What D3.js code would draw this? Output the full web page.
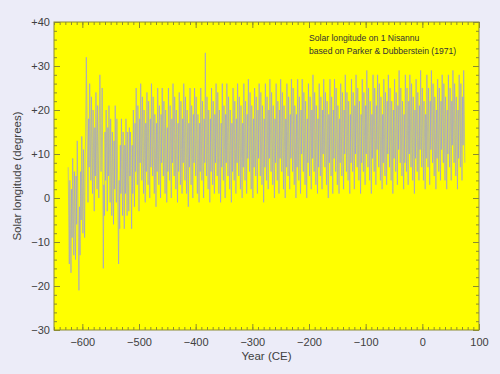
<!DOCTYPE html>
<html><head><meta charset="utf-8">
<script src="https://cdn.jsdelivr.net/npm/d3@7"></script>
<style>
html,body{margin:0;padding:0;background:#ececf8;}
svg{display:block;font-family:"Liberation Sans",Arial,Helvetica,sans-serif;}
</style></head>
<body>
<svg id="chart" width="500" height="374"></svg>
<script>
// ---- data ----
const firstYear = -625;
// irregular period, years -625 .. -506
const longitudeEarly = [
  7, -4, -15, 4, -7, -17, 2, -9, 9, -2,
  -13, 6, -5, -14, 5, -6, 13, 2, -9, -21,
  -2, -13, 6, -5, 14, 3, -8, 11, 0, -9,
  10, 14, 32, 21, 10, -1, 18, 7, 26, 15,
  4, 23, 12, 1, 20, 9, -3, 16, 5, 24,
  13, 2, 21, 10, 0, 17, 28, 17, 6, 14,
  25, 8, -16, 3, -4, 15, 4, 20, 9, -3,
  16, 5, 21, 10, -1, 18, 7, -4, 15, 4,
  -6, 13, 2, 21, 10, -1, 18, 7, -4, -15,
  4, -7, 12, 1, 18, 7, -4, 15, 4, -7,
  12, 1, 18, 7, -4, 15, 4, -3, 16, 5,
  15, 4, -7, 12, 1, 20, 9, -2, 17, 6
];
// regular 19-year cycle period, years -505 .. +75
const longitudeRegular = [
  25, 14, 3, 21, 10, -3, 18, 8, 26, 15, 4, 23, 12, 1, 20, 9, -1, 17, 6,
  24, 14, 3, 22, 11, 0, 18, 7, 26, 15, 5, 23, 12, 1, 19, 9, -2, 17, 6,
  25, 13, 3, 21, 11, 0, 19, 8, 25, 15, 5, 22, 12, 1, 20, 9, -1, 16, 6,
  25, 14, 4, 21, 10, 0, 18, 8, 26, 16, 5, 23, 12, 2, 20, 8, -1, 17, 6,
  24, 14, 3, 22, 11, 1, 18, 8, 26, 15, 4, 23, 13, 1, 20, 9, -2, 17, 7,
  25, 14, 3, 21, 11, 0, 19, 8, 25, 15, 5, 23, 12, 1, 19, 9, -1, 17, 6,
  25, 15, 4, 22, 11, 0, 18, 8, 33, 15, 5, 23, 12, 2, 20, 9, -1, 18, 6,
  25, 14, 3, 22, 11, 1, 19, 8, 26, 15, 5, 24, 12, 1, 20, 10, -1, 17, 7,
  26, 14, 4, 21, 11, 0, 19, 8, 26, 16, 5, 23, 13, 2, 20, 9, -1, 17, 6,
  25, 15, 4, 22, 11, 1, 18, 8, 26, 16, 5, 23, 12, 2, 21, 9, 0, 17, 7,
  26, 15, 4, 22, 12, 1, 19, 9, 27, 16, 6, 24, 13, 2, 21, 10, 0, 18, 7,
  25, 15, 5, 23, 12, 1, 20, 9, 26, 16, 5, 24, 13, 3, 21, 10, -1, 18, 7,
  26, 16, 4, 23, 12, 2, 20, 9, 27, 16, 6, 24, 14, 3, 21, 10, 0, 18, 8,
  26, 15, 4, 22, 12, 1, 20, 9, 27, 17, 6, 24, 13, 2, 21, 11, 0, 18, 7,
  26, 15, 5, 23, 12, 2, 19, 9, 27, 16, 6, 25, 13, 3, 21, 10, 0, 19, 7,
  27, 15, 4, 23, 12, 1, 20, 10, 27, 16, 6, 24, 13, 3, 22, 10, 0, 18, 8,
  26, 16, 5, 23, 13, 2, 20, 9, 28, 17, 6, 24, 14, 3, 21, 11, 1, 18, 7,
  26, 15, 5, 23, 12, 2, 20, 10, 27, 16, 7, 24, 13, 3, 22, 10, 0, 19, 8,
  27, 16, 5, 23, 12, 1, 20, 9, 27, 17, 6, 25, 14, 3, 21, 11, 1, 18, 8,
  26, 16, 5, 24, 13, 2, 20, 10, 28, 17, 6, 24, 14, 4, 22, 11, 1, 19, 8,
  27, 16, 6, 24, 13, 2, 21, 10, 28, 17, 7, 25, 14, 4, 22, 11, 1, 19, 8,
  27, 17, 6, 24, 14, 3, 21, 10, 29, 18, 7, 25, 15, 4, 22, 12, 1, 19, 9,
  28, 16, 6, 25, 13, 3, 21, 11, 28, 18, 7, 26, 15, 4, 23, 12, 2, 19, 8,
  27, 16, 5, 24, 13, 3, 22, 10, 28, 17, 7, 25, 14, 4, 22, 12, 1, 20, 9,
  27, 17, 6, 24, 14, 3, 21, 11, 29, 18, 8, 25, 15, 5, 22, 12, 2, 19, 8,
  28, 17, 6, 25, 13, 3, 22, 10, 28, 18, 7, 26, 15, 4, 23, 12, 1, 20, 9,
  27, 16, 6, 24, 14, 4, 21, 11, 29, 18, 7, 25, 14, 4, 22, 13, 2, 19, 9,
  28, 17, 7, 25, 14, 3, 22, 11, 29, 18, 8, 26, 15, 5, 23, 12, 2, 20, 9,
  27, 17, 6, 25, 14, 4, 22, 11, 28, 19, 8, 26, 15, 4, 23, 13, 2, 20, 10,
  28, 17, 7, 25, 15, 4, 22, 12, 29, 18, 8, 26, 16, 5, 23, 13, 2, 20, 9,
  28, 18, 7, 26, 15, 4, 23, 12, 29, 19, 8
];
const xTicks = [-600, -500, -400, -300, -200, -100, 0, 100];
const yTicks = [-30, -20, -10, 0, 10, 20, 30, 40];
const titleLines = ["Solar longitude on 1 Nisannu", "based on Parker & Dubberstein (1971)"];

const values = longitudeEarly.concat(longitudeRegular);
const series = values.map((v, i) => ({year: firstYear + i, lon: v}));

// ---- layout ----
const svg = d3.select("#chart");
const L = 54, R = 479, T = 22, B = 330;
const x = d3.scaleLinear().domain([-650, 100]).range([L, R]);
const y = d3.scaleLinear().domain([-30, 40]).range([B, T]);

svg.append("rect").attr("width", 500).attr("height", 374).attr("fill", "#ececf8");
svg.append("rect").attr("x", L).attr("y", T).attr("width", R - L).attr("height", B - T).attr("fill", "#ffff00");

// data line
const line = d3.line().x(d => x(d.year)).y(d => y(d.lon));
svg.append("path").datum(series)
  .attr("d", line)
  .attr("fill", "none")
  .attr("stroke", "#8c8cff")
  .attr("stroke-width", 0.55)
  .attr("stroke-linejoin", "round");

// axes
const axisColor = "#8c8c30";
const textColor = "#404040";
const fmtY = d => d > 0 ? "+" + d : (d < 0 ? "\u2212" + Math.abs(d) : "0");
const fmtX = d => d < 0 ? "\u2212" + Math.abs(d) : String(d);

function styleAxis(g, labels) {
  g.select(".domain").remove();
  g.selectAll(".tick line").attr("stroke", axisColor).attr("stroke-width", 1);
  g.selectAll(".tick text").attr("fill", textColor).style("font-size", "11px");
  if (!labels) g.selectAll(".tick text").remove();
}
const xMinor = d3.range(-650, 101, 10);
const yMinor = d3.range(-30, 41, 2);

// minor ticks (all four sides, inward)
const gMinor = svg.append("g");
gMinor.append("g").attr("transform", `translate(0,${B})`)
  .call(d3.axisBottom(x).tickValues(xMinor).tickSize(-3).tickFormat(""))
  .call(g => styleAxis(g, false));
gMinor.append("g").attr("transform", `translate(0,${T})`)
  .call(d3.axisTop(x).tickValues(xMinor).tickSize(-3).tickFormat(""))
  .call(g => styleAxis(g, false));
gMinor.append("g").attr("transform", `translate(${L},0)`)
  .call(d3.axisLeft(y).tickValues(yMinor).tickSize(-3).tickFormat(""))
  .call(g => styleAxis(g, false));
gMinor.append("g").attr("transform", `translate(${R},0)`)
  .call(d3.axisRight(y).tickValues(yMinor).tickSize(-3).tickFormat(""))
  .call(g => styleAxis(g, false));

// major ticks
svg.append("g").attr("transform", `translate(0,${B})`)
  .call(d3.axisBottom(x).tickValues(xTicks).tickSize(-6).tickPadding(8).tickFormat(fmtX))
  .call(g => styleAxis(g, true));
svg.append("g").attr("transform", `translate(0,${T})`)
  .call(d3.axisTop(x).tickValues(xTicks).tickSize(-6).tickFormat(""))
  .call(g => styleAxis(g, false));
svg.append("g").attr("transform", `translate(${L},0)`)
  .call(d3.axisLeft(y).tickValues(yTicks).tickSize(-6).tickPadding(4).tickFormat(fmtY))
  .call(g => styleAxis(g, true));
svg.append("g").attr("transform", `translate(${R},0)`)
  .call(d3.axisRight(y).tickValues(yTicks).tickSize(-6).tickFormat(""))
  .call(g => styleAxis(g, false));

// frame
svg.append("rect").attr("x", L).attr("y", T).attr("width", R - L).attr("height", B - T)
  .attr("fill", "none").attr("stroke", axisColor).attr("stroke-width", 1);

// axis titles
svg.append("text").attr("x", (L + R) / 2).attr("y", 360).attr("text-anchor", "middle")
  .attr("fill", textColor).style("font-size", "11.5px").text("Year (CE)");
svg.append("text").attr("transform", `translate(21,${(T + B) / 2}) rotate(-90)`)
  .attr("text-anchor", "middle").attr("fill", textColor).style("font-size", "11.5px")
  .text("Solar longitude (degrees)");

// annotation
svg.append("g").selectAll("text").data(titleLines).join("text")
  .attr("x", 309).attr("y", (d, i) => 41 + i * 12.5)
  .attr("fill", "#333333").style("font-size", "8.6px").text(d => d);
</script>
</body></html>
